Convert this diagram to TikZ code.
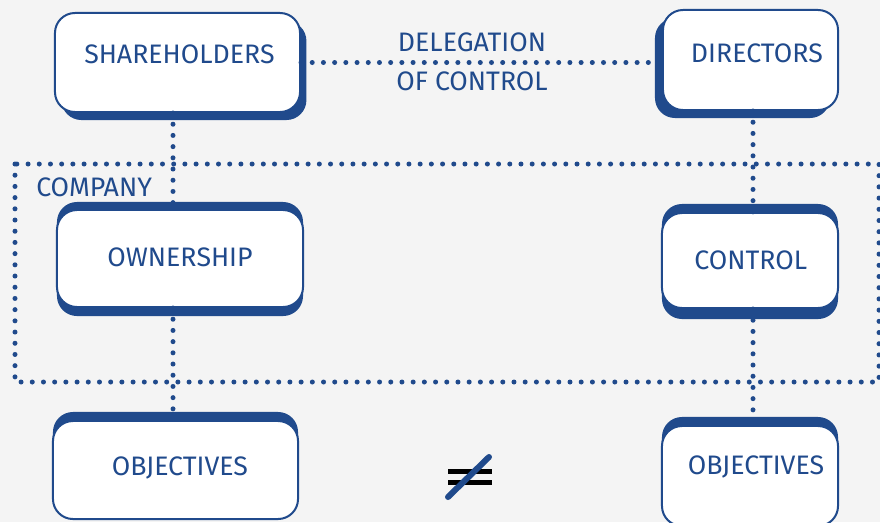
\documentclass[tikz,border=0pt]{standalone}
\usepackage{fontspec}
\setmainfont{Fira Sans}
\usepackage{tikz}
\usetikzlibrary{shadows}
\definecolor{Box_blue}{RGB}{32, 74, 140}
\definecolor{Back_grey}{RGB}{244, 244, 244}

\begin{document}
\begin{tikzpicture}[x=0.025cm, y=-0.025cm,
    boxtext/.style={font=\fontsize{19pt}{23pt}\selectfont, text=Box_blue, inner sep=0pt},
    roundbox/.style={draw=Box_blue, line width=0.05cm, fill=white, rounded corners=0.5cm, inner sep=0pt},
    dotline/.style={Box_blue, line width=0.125cm, line cap=round, dash pattern=on 0pt off 0.28cm}]
    %% Background
    \useasboundingbox (0,0) rectangle (880,522);
    \fill[Back_grey] (0,0) rectangle (880,522);

    %% Company frame
    \draw[dotline] (15,164) rectangle (879,382);
    \node[boxtext, anchor=west] (companyT) at (36,187) {COMPANY};

    %% Boxes
    \node[roundbox, minimum width=6.125cm, minimum height=2.475cm,
        general shadow={fill=Box_blue, shadow xshift=0.16cm, shadow yshift=-0.2cm},
        label={[boxtext, name=shareT, xshift=0.05cm, yshift=0.21cm]center:SHAREHOLDERS}]
        (share) at (177.5,62.5) {};
    \node[roundbox, minimum width=4.375cm, minimum height=2.5cm,
        general shadow={fill=Box_blue, shadow xshift=-0.2cm, shadow yshift=-0.2cm},
        label={[boxtext, name=dirT, xshift=0.16cm, yshift=0.17cm]center:DIRECTORS}]
        (dir) at (750.5,60) {};
    \node[roundbox, minimum width=6.15cm, minimum height=2.425cm,
        general shadow={fill=Box_blue, shadow yshift=0.2cm},
        general shadow={fill=Box_blue, shadow yshift=-0.225cm},
        label={[boxtext, name=ownT, yshift=0.04cm]center:OWNERSHIP}]
        (own) at (180,258.5) {};
    \node[roundbox, minimum width=4.4cm, minimum height=2.375cm,
        general shadow={fill=Box_blue, shadow yshift=0.225cm},
        general shadow={fill=Box_blue, shadow yshift=-0.275cm},
        label={[boxtext, name=ctrlT, xshift=0.02cm]center:CONTROL}]
        (ctrl) at (750,260.5) {};
    \node[roundbox, minimum width=6.125cm, minimum height=2.45cm,
        general shadow={fill=Box_blue, shadow yshift=0.225cm},
        label={[boxtext, name=objLT, xshift=0.11cm, yshift=0.05cm]center:OBJECTIVES}]
        (objL) at (175.5,470) {};
    \node[roundbox, minimum width=4.4cm, minimum height=2.5cm,
        general shadow={fill=Box_blue, shadow yshift=0.225cm},
        label={[boxtext, name=objRT, xshift=0.15cm, yshift=0.22cm]center:OBJECTIVES}]
        (objR) at (750,476) {};

    %% Dotted links
    \coordinate (colL) at (173,0);
    \coordinate (colR) at (753,0);
    \draw[dotline] (share.east) -- (share.east -| dir.west);
    \draw[dotline] (share.south -| colL) -- (own.north -| colL);
    \draw[dotline] (own.south -| colL) -- (objL.north -| colL);
    \draw[dotline] (dir.south -| colR) -- (ctrl.north -| colR);
    \draw[dotline] (ctrl.south -| colR) -- (objR.north -| colR);
    \node[boxtext, align=center] (deleg) at (472,62) {DELEGATION\\[5pt]OF CONTROL};

    %% Not equal
    \draw[line width=0.11cm] (448,471.5) -- (492,471.5) (448,482.5) -- (492,482.5);
    \draw[Box_blue, line width=0.15cm, line cap=round] (448,497) -- (489,457);
\end{tikzpicture}
\end{document}
